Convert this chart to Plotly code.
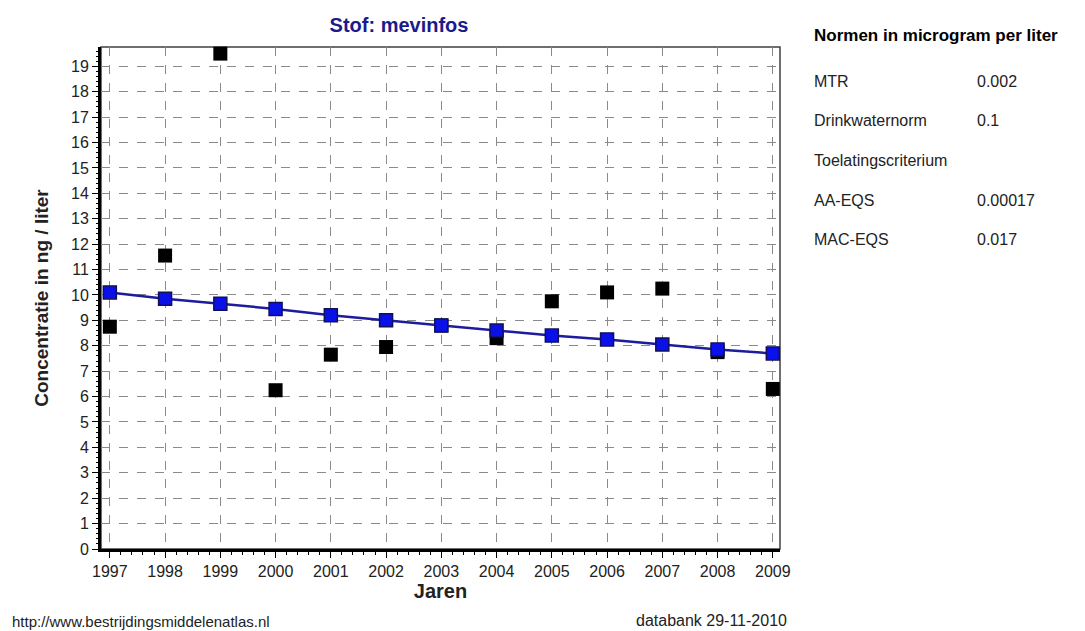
import plotly.graph_objects as go

# measured concentrations (ng/l) per year
years = [1997, 1998, 1999, 2000, 2001, 2002, 2003, 2004, 2005, 2006, 2007, 2008, 2009]
measured = [8.75, 11.55, 19.5, 6.25, 7.65, 7.95, 8.8, 8.3, 9.75, 10.1, 10.25, 7.75, 6.3]
trend = [10.1, 9.85, 9.65, 9.45, 9.2, 9.0, 8.8, 8.6, 8.4, 8.25, 8.05, 7.85, 7.7]

norm_labels = ["MTR", "Drinkwaternorm", "Toelatingscriterium", "AA-EQS", "MAC-EQS"]
norm_values = ["0.002", "0.1", "", "0.00017", "0.017"]

FONT = "Arial, Liberation Sans, sans-serif"
# the page body has an 8px margin, so the figure is drawn 8px in from the corner
OFF = 8
W, H = 1085 - OFF, 631 - OFF
L, R, T, B = 101 - OFF, 780 - OFF, 47 - OFF, 549 - OFF   # plot area in figure pixels
PW, PH = R - L, B - T


def px_x(x):
    # x in screenshot pixels -> paper coordinate
    return (x - OFF - L) / PW


def px_y(y):
    return (B - (y - OFF)) / PH


fig = go.Figure()

fig.add_trace(go.Scatter(
    x=years, y=measured, mode="markers",
    marker=dict(symbol="square", size=14, color="black", line=dict(width=0)),
    cliponaxis=False, showlegend=False, hoverinfo="x+y"
))
fig.add_trace(go.Scatter(
    x=years, y=trend, mode="lines+markers",
    line=dict(color="#1c1c9c", width=2.5),
    marker=dict(symbol="square", size=13, color="#0a10e8", line=dict(color="#10105a", width=1.5)),
    cliponaxis=False, showlegend=False, hoverinfo="x+y"
))

# thin frame around the plot area
fig.add_shape(type="rect", xref="paper", yref="paper", x0=0, y0=0, x1=1, y1=1,
              line=dict(color="#404040", width=1.5), layer="below")

fig.update_layout(
    width=W, height=H, autosize=False,
    margin=dict(l=L, r=W - R, t=T, b=H - B),
    plot_bgcolor="white", paper_bgcolor="white",
    font=dict(family=FONT, size=16, color="#222"),
    title=dict(text="<b>Stof: mevinfos</b>", x=(399 - OFF) / W, xanchor="center", y=1 - (25 - OFF) / H,
               yanchor="middle",
               font=dict(family=FONT, size=20, color="#1a1a8c")),
    xaxis=dict(
        range=[1996.84, 2009.13], tickmode="array", tickvals=years,
        ticktext=[str(y) for y in years],
        showgrid=True, gridcolor="#8a8a8a", griddash="dash", gridwidth=1,
        showline=True, linecolor="black", linewidth=3,
        ticks="outside", ticklen=6, tickcolor="black", tickwidth=1,
        minor=dict(dtick=0.2, tick0=1997, ticks="outside", ticklen=3, tickcolor="black", showgrid=False),
        zeroline=False, automargin=False, tickfont=dict(size=16, color="#222"),
        title=dict(text="<b>Jaren</b>", font=dict(size=20, color="#222"), standoff=4),
    ),
    yaxis=dict(
        range=[0, 19.76], tickmode="linear", tick0=0, dtick=1,
        showgrid=True, gridcolor="#8a8a8a", griddash="dash", gridwidth=1,
        showline=True, linecolor="black", linewidth=3,
        ticks="outside", ticklen=6, tickcolor="black", tickwidth=1,
        minor=dict(dtick=0.2, tick0=0, ticks="outside", ticklen=2, tickcolor="black", showgrid=False),
        zeroline=False, automargin=False, tickfont=dict(size=16, color="#222"),
        title=dict(text="<b>Concentratie in ng / liter</b>", font=dict(size=19, color="#222"), standoff=18),
    ),
)

fig.add_annotation(text="http://www.bestrijdingsmiddelenatlas.nl", xref="paper", yref="paper",
                   x=px_x(10), y=px_y(621), xanchor="left", yanchor="middle", showarrow=False,
                   font=dict(size=15, color="#222"))
fig.add_annotation(text="databank 29-11-2010", xref="paper", yref="paper",
                   x=px_x(789), y=px_y(620), xanchor="right", yanchor="middle", showarrow=False,
                   font=dict(size=16, color="#222"))

# norms panel on the right
fig.add_annotation(text="<b>Normen in microgram per liter</b>", xref="paper", yref="paper",
                   x=px_x(812), y=px_y(35), xanchor="left", yanchor="middle", showarrow=False,
                   font=dict(size=17, color="black"))
for i, (lab, val) in enumerate(zip(norm_labels, norm_values)):
    yp = px_y(81 + i * 39.7)
    fig.add_annotation(text=lab, xref="paper", yref="paper", x=px_x(812), y=yp,
                       xanchor="left", yanchor="middle", showarrow=False,
                       font=dict(size=16, color="#222"))
    if val:
        fig.add_annotation(text=val, xref="paper", yref="paper", x=px_x(975), y=yp,
                           xanchor="left", yanchor="middle", showarrow=False,
                           font=dict(size=16, color="#222"))

fig.write_html("out.html")
